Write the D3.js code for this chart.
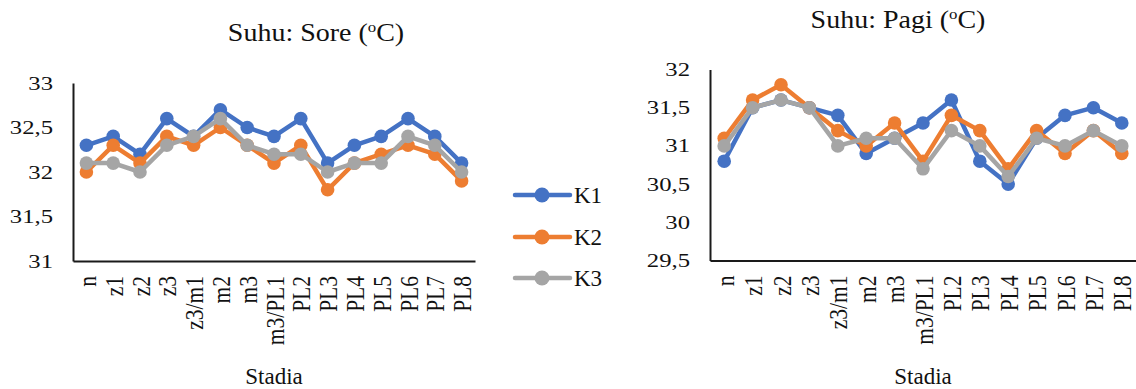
<!DOCTYPE html>
<html>
<head>
<meta charset="utf-8">
<script src="https://cdn.jsdelivr.net/npm/d3@7"></script>
<style>
  html, body { margin: 0; padding: 0; background: #fff; }
  svg { display: block; font-family: "Liberation Serif", "Times New Roman", serif; }
</style>
</head>
<body>
<svg id="chart" width="1136" height="389"></svg>
<script>
const categories = ["n","z1","z2","z3","z3/m1","m2","m3","m3/PL1","PL2","PL3","PL4","PL5","PL6","PL7","PL8"];
const seriesNames = ["K1","K2","K3"];
const seriesColors = ["#4472C4","#ED7D31","#A5A5A5"];

const soreK1 = [32.3,32.4,32.2,32.6,32.4,32.7,32.5,32.4,32.6,32.1,32.3,32.4,32.6,32.4,32.1];
const soreK2 = [32.0,32.3,32.1,32.4,32.3,32.5,32.3,32.1,32.3,31.8,32.1,32.2,32.3,32.2,31.9];
const soreK3 = [32.1,32.1,32.0,32.3,32.4,32.6,32.3,32.2,32.2,32.0,32.1,32.1,32.4,32.3,32.0];

const pagiK1 = [30.8,31.5,31.6,31.5,31.4,30.9,31.1,31.3,31.6,30.8,30.5,31.1,31.4,31.5,31.3];
const pagiK2 = [31.1,31.6,31.8,31.5,31.2,31.0,31.3,30.8,31.4,31.2,30.7,31.2,30.9,31.2,30.9];
const pagiK3 = [31.0,31.5,31.6,31.5,31.0,31.1,31.1,30.7,31.2,31.0,30.6,31.1,31.0,31.2,31.0];

const soreTicks = [31, 31.5, 32, 32.5, 33];
const pagiTicks = [29.5, 30, 30.5, 31, 31.5, 32];

const svg = d3.select("#chart");
const fmt = d => String(d).replace(".", ",");

function drawChart(cfg) {
  const x = d3.scalePoint().domain(categories).range([cfg.left, cfg.right]).padding(0.5);
  const y = d3.scaleLinear().domain(cfg.domain).range([cfg.bottom, cfg.top]);

  // y axis
  const yAxis = svg.append("g")
    .attr("transform", `translate(${cfg.left},0)`)
    .call(d3.axisLeft(y).tickValues(cfg.ticks).tickSize(0).tickSizeOuter(0).tickFormat(fmt));
  yAxis.select(".domain").attr("stroke", "#1a1a1a").attr("stroke-width", 2);
  yAxis.selectAll("text")
    .attr("font-family", "Liberation Serif")
    .attr("font-size", 19)
    .attr("fill", "#111")
    .attr("x", -20 / 1.3)
    .attr("transform", "scale(1.3,1)");

  // x axis
  const xAxis = svg.append("g")
    .attr("transform", `translate(0,${cfg.bottom})`)
    .call(d3.axisBottom(x).tickSize(0).tickSizeOuter(0));
  xAxis.select(".domain").attr("stroke", "#1a1a1a").attr("stroke-width", 2);
  xAxis.selectAll("text")
    .attr("font-family", "Liberation Serif")
    .attr("font-size", 21.5)
    .attr("fill", "#111")
    .attr("text-anchor", "end")
    .attr("x", 0).attr("y", 0)
    .attr("dy", "0.35em")
    .attr("transform", "translate(0,15) rotate(-90) scale(1,1.2)");

  // lines & markers
  const line = d3.line().x((d, i) => x(categories[i])).y(d => y(d));
  cfg.series.forEach((vals, si) => {
    svg.append("path")
      .datum(vals)
      .attr("fill", "none")
      .attr("stroke", seriesColors[si])
      .attr("stroke-width", 4.5)
      .attr("stroke-linejoin", "round")
      .attr("d", line);
    svg.append("g").selectAll("circle")
      .data(vals)
      .join("circle")
      .attr("cx", (d, i) => x(categories[i]))
      .attr("cy", d => y(d))
      .attr("r", 6.8)
      .attr("fill", seriesColors[si]);
  });

  // title
  const t = svg.append("text")
    .attr("transform", `translate(${cfg.titleX},${cfg.titleY}) scale(1.12,1)`)
    .attr("text-anchor", "middle")
    .attr("font-size", 25)
    .attr("fill", "#111");
  t.append("tspan").text(cfg.titleMain + " (");
  t.append("tspan").attr("font-size", 15).attr("dy", -9).text("o");
  t.append("tspan").attr("dy", 9).text("C)");

  // x axis title
  svg.append("text")
    .attr("x", (cfg.left + cfg.right) / 2)
    .attr("y", 384)
    .attr("text-anchor", "middle")
    .attr("font-size", 23)
    .attr("fill", "#111")
    .text("Stadia");
}

drawChart({
  left: 73, right: 475, top: 83, bottom: 261,
  domain: [31, 33], ticks: soreTicks,
  series: [soreK1, soreK2, soreK3],
  titleMain: "Suhu: Sore", titleX: 316, titleY: 41
});

drawChart({
  left: 710, right: 1136, top: 69.5, bottom: 260.5,
  domain: [29.5, 32], ticks: pagiTicks,
  series: [pagiK1, pagiK2, pagiK3],
  titleMain: "Suhu: Pagi", titleX: 898, titleY: 28
});

// legend
const legendY = [195, 237, 278];
const legend = svg.append("g");
seriesNames.forEach((name, i) => {
  const g = legend.append("g").attr("transform", `translate(0,${legendY[i]})`);
  g.append("line").attr("x1", 515).attr("x2", 570).attr("y1", 0).attr("y2", 0)
    .attr("stroke", seriesColors[i]).attr("stroke-width", 4.5).attr("stroke-linecap", "round");
  g.append("circle").attr("cx", 542).attr("cy", 0).attr("r", 7.5).attr("fill", seriesColors[i]);
  g.append("text").attr("x", 574).attr("y", 0).attr("dy", "0.35em")
    .attr("font-size", 23).attr("fill", "#111").text(name);
});
</script>
</body>
</html>
